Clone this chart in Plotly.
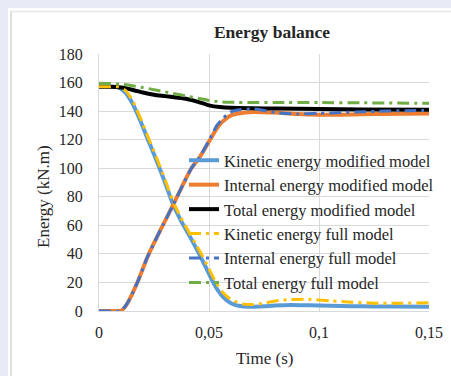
"""Energy balance chart: modified vs full model."""

import plotly.graph_objects as go

# Series colours (Excel-like palette)
KIN_MOD_COLOR = '#5b9bd5'
INT_MOD_COLOR = '#ed7d31'
TOT_MOD_COLOR = '#000000'
KIN_FULL_COLOR = '#ffc000'
INT_FULL_COLOR = '#4472c4'
TOT_FULL_COLOR = '#70ad47'

# Kinetic energy (kN.m)
t_kin = [0, 0.005, 0.009, 0.012, 0.015, 0.0186, 0.022, 0.026, 0.030, 0.0336, 0.037, 0.041,
         0.0445, 0.047, 0.050, 0.053, 0.056, 0.060, 0.065, 0.07, 0.075, 0.08, 0.087, 0.095,
         0.105, 0.115, 0.125, 0.135, 0.15]
kin_mod = [157, 157, 156.5, 153, 146, 134, 121, 106, 90, 75, 64, 53,
           43, 35.5, 26, 17, 10.5, 5.5, 3.3, 3.0, 3.3, 3.8, 4.2, 4.0,
           3.6, 3.3, 3.2, 3.1, 3.0]
kin_full = [157, 157, 157, 154.5, 148, 136, 123, 108, 92, 77, 66, 55,
            45.5, 38.5, 29.5, 20.5, 13.5, 8, 5, 4.5, 5.5, 7, 8, 8.2,
            7.2, 6.2, 5.5, 5.4, 5.8]

# Internal energy (kN.m)
t_int = [0, 0.005, 0.0095, 0.011, 0.0125, 0.014, 0.016, 0.018, 0.0218, 0.0245, 0.029, 0.0336,
         0.038, 0.042, 0.0459, 0.0505, 0.0536, 0.0564, 0.060, 0.064, 0.07, 0.075, 0.08, 0.09,
         0.1, 0.11, 0.12, 0.13, 0.14, 0.15]
int_mod = [0, 0, 0, 1.5, 4.5, 8.5, 15, 22, 37, 46, 60, 74,
           88, 100, 108, 120, 128, 133, 137, 138.5, 139.3, 139.2, 139, 138,
           137.5, 137.5, 137.8, 138, 138.2, 138.3]
int_full = [0, 0, 0, 1.5, 4.5, 8.5, 15, 22, 37, 46, 60, 74,
            88, 100, 108, 121, 130, 135, 139.5, 141, 141.5, 140.5, 139, 138,
            138.5, 139, 139.5, 140, 140.3, 140.5]

# Total energy (kN.m)
t_tot = [0, 0.005, 0.01, 0.015, 0.02, 0.025, 0.03, 0.035, 0.04, 0.045, 0.05, 0.055,
         0.06, 0.07, 0.08, 0.1, 0.12, 0.15]
tot_mod = [157, 157, 156.5, 155, 153, 151.5, 150.5, 149.5, 148.5, 146.5, 144, 142.8,
           142.3, 142, 141.8, 141.5, 141.2, 141]
tot_full = [159.5, 159.3, 158.8, 157.8, 156.5, 155, 153.5, 152, 150.5, 149, 147.5, 146.5,
            146.2, 146, 146, 146, 145.8, 145.5]

x_ticks = [0, 0.05, 0.1, 0.15]
x_tick_text = ['0', '0,05', '0,1', '0,15']

FONT = 'Liberation Serif, Times New Roman, Tinos, DejaVu Serif, serif'
DASH = '12px,5px,3px,5px'

# plot area in pixels (left, right, top, bottom)
L, R, T, B = 99, 429, 54, 311
W, H = 451, 376


def px(x):
    return (x - L) / (R - L)


def py(y):
    return (B - y) / (B - T)


series = [
    ('Kinetic energy modified model', t_kin, kin_mod, KIN_MOD_COLOR, 4, 'solid'),
    ('Internal energy modified model', t_int, int_mod, INT_MOD_COLOR, 4, 'solid'),
    ('Total energy modified model', t_tot, tot_mod, TOT_MOD_COLOR, 4, 'solid'),
    ('Kinetic energy full model', t_kin, kin_full, KIN_FULL_COLOR, 3, DASH),
    ('Internal energy full model', t_int, int_full, INT_FULL_COLOR, 3, DASH),
    ('Total energy full model', t_tot, tot_full, TOT_FULL_COLOR, 3, DASH),
]

fig = go.Figure()
for name, t, e, color, width, dash in series:
    fig.add_trace(go.Scatter(
        x=t, y=e, name=name, mode='lines',
        line=dict(color=color, width=width, dash=dash, shape='spline', smoothing=0.6),
    ))

fig.update_layout(
    width=W, height=H,
    margin=dict(l=L, r=W - R, t=T, b=H - B, autoexpand=False),
    paper_bgcolor='#e7ebf6',
    plot_bgcolor='white',
    font=dict(family=FONT, size=16, color='#262626'),
    title=dict(text='<b>Energy balance</b>', x=272 / W, xref='container', xanchor='center',
               y=1 - 32 / H, yref='container', yanchor='middle',
               font=dict(family=FONT, size=17.5, color='#262626')),
    showlegend=True,
    legend=dict(x=px(184), y=py(143), xanchor='left', yanchor='top',
                bgcolor='rgba(0,0,0,0)', font=dict(family=FONT, size=16.5, color='#262626')),
    xaxis=dict(range=[0, 0.15], tickvals=x_ticks, ticktext=x_tick_text,
               showgrid=True, gridcolor='#d9d9d9', gridwidth=1, zeroline=False,
               showline=True, linecolor='#d9d9d9', ticks='', ticklabelstandoff=7),
    yaxis=dict(range=[0, 180], dtick=20, showgrid=True, gridcolor='#d9d9d9', gridwidth=1,
               zeroline=False, showline=True, linecolor='#d9d9d9', ticks='',
               ticklabelstandoff=12),
    shapes=[
        dict(type='rect', xref='paper', yref='paper', layer='below',
             x0=px(8), x1=px(W + 5), y0=py(8), y1=py(H + 5),
             fillcolor='white', line=dict(width=0)),
        dict(type='line', xref='paper', yref='paper', layer='below',
             x0=px(11), x1=px(11), y0=py(11), y1=py(H + 5),
             line=dict(color='#e0e0e0', width=2)),
        dict(type='line', xref='paper', yref='paper', layer='below',
             x0=px(10), x1=px(W + 5), y0=py(11.5), y1=py(11.5),
             line=dict(color='#e6e6e6', width=1.5)),
    ],
    annotations=[
        dict(text='Energy (kN.m)', xref='paper', yref='paper', x=px(43), y=py(197),
             textangle=-90, showarrow=False, xanchor='center', yanchor='middle',
             font=dict(family=FONT, size=17, color='#262626')),
        dict(text='Time (s)', xref='paper', yref='paper', x=px(264), y=py(358),
             showarrow=False, xanchor='center', yanchor='middle',
             font=dict(family=FONT, size=17, color='#262626')),
    ],
)

# drop the page's default body margin so the figure fills the window
fig.write_html("out.html", config={'displayModeBar': False},
               post_script="document.body.style.margin='0';")
